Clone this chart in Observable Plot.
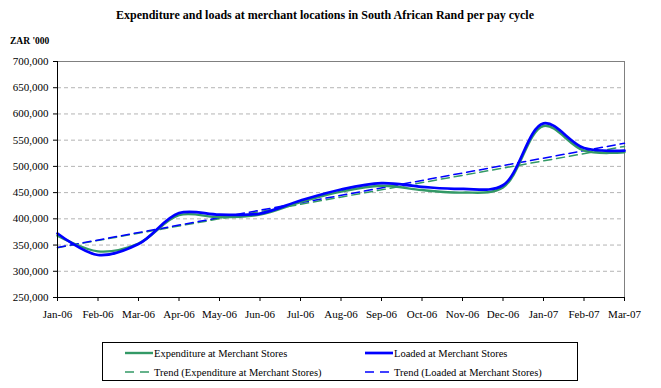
<!DOCTYPE html>
<html>
<head>
<meta charset="utf-8">
<script src="https://cdn.jsdelivr.net/npm/d3@7"></script>
<script src="https://cdn.jsdelivr.net/npm/@observablehq/plot@0.6"></script>
<style>
  body { margin: 0; background: #fff; }
  #wrap { position: relative; width: 661px; height: 388px; font-family: "Liberation Serif", "DejaVu Serif", serif; color: #000; }
  #title { position: absolute; top: 7px; left: 0; width: 650px; text-align: center; font-weight: bold; font-size: 12px; line-height: 16px; font-family: "Liberation Serif", serif; }
  #unit { position: absolute; left: 10px; top: 35px; font-weight: bold; font-size: 9.5px; line-height: 12px; font-family: "Liberation Serif", serif; }
  #chart { position: absolute; left: 0; top: 0; }
  #chart svg text { font-family: "Liberation Serif", serif !important; }
  #legend { position: absolute; left: 102px; top: 342px; width: 476px; height: 39px; border: 1px solid #000; box-sizing: border-box; font-size: 10.5px; background: #fff; font-family: "Liberation Serif", serif; }
  .item { position: absolute; display: flex; align-items: center; height: 14px; white-space: nowrap; font-family: "Liberation Serif", serif; }
  .item svg { margin-right: 1px; }
</style>
</head>
<body>
<div id="wrap">
  <div id="chart"></div>
  <div id="title">Expenditure and loads at merchant locations in South African Rand per pay cycle</div>
  <div id="unit">ZAR '000</div>
  <div id="legend"></div>
</div>
<script>
// Tick labels (one per pay-cycle month)
const months = ["Jan-06","Feb-06","Mar-06","Apr-06","May-06","Jun-06","Jul-06","Aug-06","Sep-06","Oct-06","Nov-06","Dec-06","Jan-07","Feb-07","Mar-07"];
// Series values in ZAR '000
const expenditure = [368000, 338000, 353000, 407000, 403000, 408000, 432000, 452000, 463000, 455000, 450000, 460000, 577000, 530000, 527000];
const loaded      = [372000, 331000, 352000, 411000, 408000, 410000, 435000, 456000, 468000, 461000, 457000, 464000, 582000, 535000, 530000];
const yTicks = [250000, 300000, 350000, 400000, 450000, 500000, 550000, 600000, 650000, 700000];
const gridValues = [300000, 350000, 400000, 450000, 500000, 550000, 600000, 650000];

const rows = months.map((m, i) => ({i, month: m, expenditure: expenditure[i], loaded: loaded[i]}));
const green = "#339966", blue = "#0000ff";

const chart = Plot.plot({
  width: 661,
  height: 330,
  marginLeft: 57,
  marginRight: 37,
  marginTop: 61,
  marginBottom: 33,
  style: {fontFamily: "Liberation Serif, serif", fontSize: "11px", background: "transparent", color: "#000"},
  x: {domain: [0, months.length - 1]},
  y: {domain: [250000, 700000]},
  marks: [
    Plot.ruleY(gridValues, {stroke: "#b4b4b4", strokeDasharray: "4,3"}),
    Plot.ruleY([700000], {stroke: "#808080"}),
    Plot.ruleX([months.length - 1], {stroke: "#808080"}),
    Plot.linearRegressionY(rows, {x: "i", y: "expenditure", stroke: green, ci: 0, strokeWidth: 1.5, strokeDasharray: "8,5"}),
    Plot.linearRegressionY(rows, {x: "i", y: "loaded", stroke: blue, ci: 0, strokeWidth: 1.5, strokeDasharray: "8,5"}),
    Plot.line(rows, {x: "i", y: "expenditure", stroke: green, strokeWidth: 2.4, curve: "catmull-rom"}),
    Plot.line(rows, {x: "i", y: "loaded", stroke: blue, strokeWidth: 2.7, curve: "catmull-rom"}),
    Plot.ruleX([0], {stroke: "#000"}),
    Plot.ruleY([250000], {stroke: "#000"}),
    Plot.axisX(d3.range(months.length), {tickFormat: i => months[i], tickSize: 4, tickPadding: 9, label: null, fontSize: 11}),
    Plot.axisY(yTicks, {tickFormat: d3.format(","), tickSize: 4, tickPadding: 5, label: null, fontSize: 11})
  ]
});
document.getElementById("chart").appendChild(chart);

// Legend
const legendItems = [
  {label: "Expenditure at Merchant Stores", color: green, dash: null, w: 2.4, left: 22, top: 3},
  {label: "Loaded at Merchant Stores", color: blue, dash: null, w: 2.7, left: 262, top: 3},
  {label: "Trend (Expenditure at Merchant Stores)", color: green, dash: "9,6", w: 1.5, left: 22, top: 22},
  {label: "Trend (Loaded at Merchant Stores)", color: blue, dash: "9,6", w: 1.5, left: 262, top: 22}
];
const legend = document.getElementById("legend");
for (const it of legendItems) {
  const div = document.createElement("div");
  div.className = "item";
  div.style.left = it.left + "px";
  div.style.top = it.top + "px";
  const ns = "http://www.w3.org/2000/svg";
  const svg = document.createElementNS(ns, "svg");
  svg.setAttribute("width", 28); svg.setAttribute("height", 14);
  const ln = document.createElementNS(ns, "line");
  ln.setAttribute("x1", 0); ln.setAttribute("x2", 28); ln.setAttribute("y1", 7); ln.setAttribute("y2", 7);
  ln.setAttribute("stroke", it.color); ln.setAttribute("stroke-width", it.w);
  if (it.dash) ln.setAttribute("stroke-dasharray", it.dash);
  svg.appendChild(ln);
  div.appendChild(svg);
  const span = document.createElement("span");
  span.textContent = it.label;
  div.appendChild(span);
  legend.appendChild(div);
}
</script>
</body>
</html>
